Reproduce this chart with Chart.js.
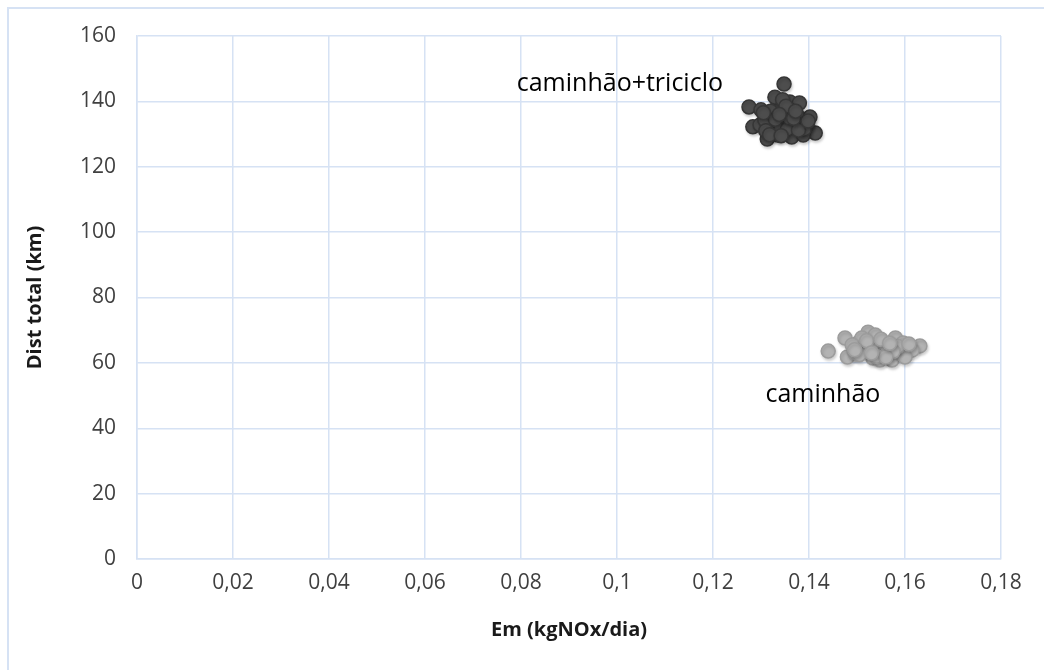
<!DOCTYPE html>
<html>
<head>
<meta charset="utf-8">
<script src="https://cdn.jsdelivr.net/npm/chart.js@4/dist/chart.umd.min.js"></script>
<style>
html,body{margin:0;padding:0;background:#fff;}
#wrap{width:1044px;height:670px;position:relative;}
</style>
</head>
<body>
<div id="wrap"><canvas id="c" width="1044" height="670"></canvas></div>
<script>
// caminhão+triciclo series (x = Em kgNOx/dia, y = Dist total km)
const triX = [0.1348,0.1275,0.1413,0.1313,0.1283,0.1402,0.1367,0.1344,0.1315,0.1371,0.1335,0.1360,0.1380,0.1300,0.1298,0.1335,0.1364,0.1388,0.1396,0.1323,0.1350,0.1385,0.1329,0.1375,0.1308,
              0.1340,0.1355,0.1320,0.1358,0.1390,0.1345,0.1330,0.1362,0.1310,0.1378,0.1352,0.1338,0.1368,0.1318,0.1398,0.1342,0.1305,0.1372];
const triY = [145.3,138.3,130.3,128.5,132.2,135.2,133.4,133.7,135.8,138.0,138.9,139.8,139.5,137.4,132.8,129.7,129.1,129.7,132.8,131.8,136.4,133.7,141.3,135.8,134.3,
              131.0,131.5,137.0,135.0,131.5,140.5,134.5,137.2,131.0,131.2,138.5,136.0,134.8,129.8,134.0,129.5,136.5,137.0];
// caminhão series
const camX = [0.1440,0.1631,0.1523,0.1475,0.1538,0.1580,0.1596,0.1615,0.1480,0.1517,0.1544,0.1558,0.1573,0.1533,0.1502,0.1590,0.1496,0.1554,0.1510,0.1600,0.1490,0.1548,
              0.1528,0.1565,0.1585,0.1505,0.1540,0.1575,0.1520,0.1560,0.1608,0.1495,0.1550,0.1530,0.1568];
const camY = [63.6,65.2,69.4,67.6,68.5,67.6,66.1,63.9,61.8,63.9,65.5,63.0,60.9,61.5,66.1,63.3,63.0,66.4,67.6,61.8,65.5,60.9,
              64.5,64.8,65.0,62.5,62.0,63.5,66.8,61.8,65.8,64.0,67.2,63.0,66.0];
// axis ticks
const xTicks = [0,0.02,0.04,0.06,0.08,0.1,0.12,0.14,0.16,0.18];
const yTicks = [0,20,40,60,80,100,120,140,160];
const seriesNames = ['caminhão+triciclo','caminhão'];
const labelX = [0.1006,0.1429];
const labelY = [145.3,50.2];

const toPts = (xs, ys) => xs.map((x,i)=>({x:x,y:ys[i]}));
const fmt = v => String(Math.round(v*100)/100).replace('.',',');

const frame = {
  id:'frame',
  beforeDraw(chart){
    const ctx = chart.ctx;
    ctx.save();
    ctx.strokeStyle = '#d6e2f4';
    ctx.lineWidth = 2;
    ctx.beginPath();
    ctx.moveTo(8,670); ctx.lineTo(8,8); ctx.lineTo(1044,8);
    ctx.stroke();
    ctx.restore();
  }
};
const shadow = {
  id:'shadow',
  beforeDatasetDraw(chart){
    const ctx = chart.ctx;
    ctx.save();
    ctx.shadowColor='rgba(0,0,0,0.18)';
    ctx.shadowBlur=3;
    ctx.shadowOffsetX=1;
    ctx.shadowOffsetY=2;
  },
  afterDatasetDraw(chart){ chart.ctx.restore(); }
};
const labels = {
  id:'labels',
  afterDatasetsDraw(chart){
    const ctx = chart.ctx, xs = chart.scales.x, ys = chart.scales.y;
    ctx.save();
    ctx.font = '25px "Open Sans"';
    ctx.fillStyle = '#000';
    ctx.textAlign = 'center';
    ctx.textBaseline = 'middle';
    seriesNames.forEach((n,i)=>{
      ctx.fillText(n, xs.getPixelForValue(labelX[i]), ys.getPixelForValue(labelY[i]));
    });
    ctx.restore();
  }
};

new Chart(document.getElementById('c'), {
  type:'scatter',
  data:{datasets:[
    {label:seriesNames[0], data:toPts(triX,triY), backgroundColor:'#4d4d4d', borderColor:'#363636', borderWidth:1.5, pointRadius:7},
    {label:seriesNames[1], data:toPts(camX,camY), backgroundColor:'#b3b3b3', borderColor:'#9c9c9c', borderWidth:1.5, pointRadius:7}
  ]},
  options:{
    responsive:false,
    animation:false,
    events:[],
    layout:{padding:{left:0,top:36,right:43,bottom:0}},
    plugins:{legend:{display:false},tooltip:{enabled:false}},
    scales:{
      x:{
        type:'linear', min:0, max:0.18,
        afterBuildTicks(s){ s.ticks = xTicks.map(v=>({value:v})); },
        afterFit(s){ s.height = 111; },
        border:{color:'#d6e2f4', width:1.5},
        grid:{color:'#d6e2f4', lineWidth:1.5, drawTicks:false},
        ticks:{font:{family:'"Open Sans"', size:21}, color:'#404040', padding:11, maxRotation:0, autoSkip:false, callback:v=>fmt(v)},
        title:{display:true, text:'Em (kgNOx/dia)', font:{family:'"Open Sans"', size:20, weight:'bold'}, color:'#1a1a1a', padding:{top:0,bottom:28}}
      },
      y:{
        type:'linear', min:0, max:160,
        afterBuildTicks(s){ s.ticks = yTicks.map(v=>({value:v})); },
        afterFit(s){ s.width = 137; },
        border:{color:'#d6e2f4', width:1.5},
        grid:{color:'#d6e2f4', lineWidth:1.5, drawTicks:false},
        ticks:{font:{family:'"Open Sans"', size:21}, color:'#404040', padding:21, autoSkip:false, callback:v=>String(v)},
        title:{display:true, text:'Dist total (km)', font:{family:'"Open Sans"', size:20, weight:'bold'}, color:'#1a1a1a', padding:{top:23,bottom:0}}
      }
    }
  },
  plugins:[frame, shadow, labels]
});
</script>
</body>
</html>
